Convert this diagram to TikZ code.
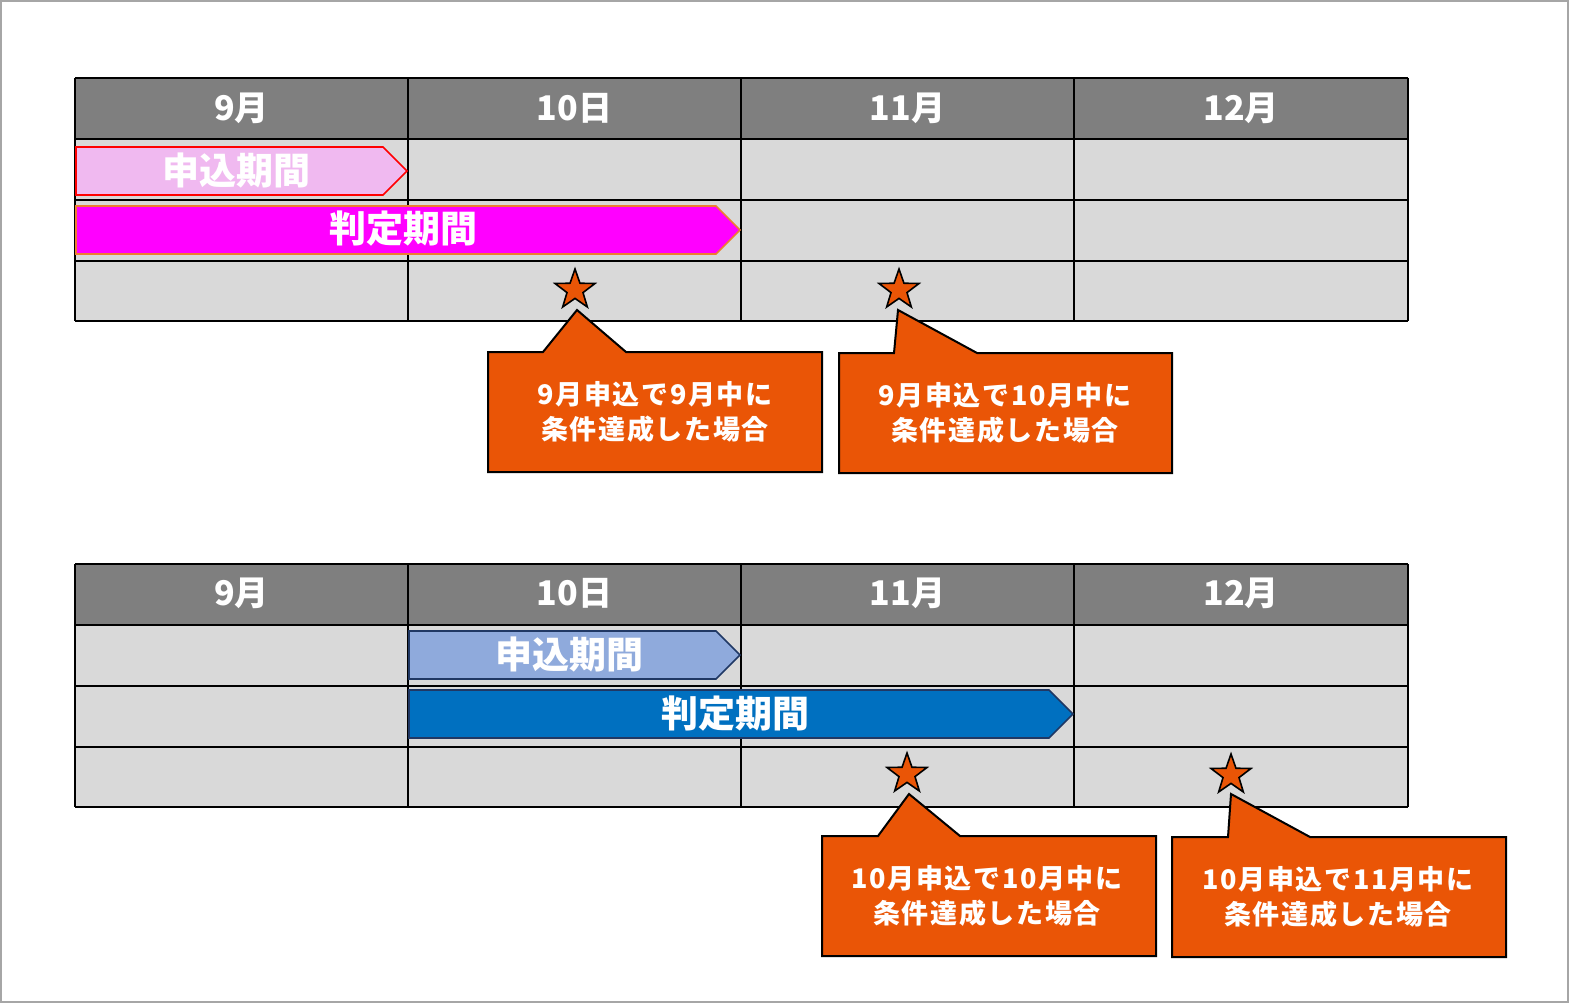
\documentclass[tikz,border=0pt]{standalone}
\usepackage{fontspec}
\newfontfamily\jp{Noto Sans CJK JP}
\newfontfamily\jpsp{Noto Sans CJK JP}[LetterSpace=6]
\usetikzlibrary{shapes.geometric}
\definecolor{hdr}{HTML}{7F7F7F}
\definecolor{cell}{HTML}{D9D9D9}
\definecolor{org}{HTML}{EA5506}
\definecolor{pinkl}{HTML}{F0B9F0}
\definecolor{mag}{HTML}{FF00FF}
\definecolor{magb}{HTML}{ED7D31}
\definecolor{bluel}{HTML}{8FAADC}
\definecolor{blued}{HTML}{0070C0}
\definecolor{navy}{HTML}{203864}
\definecolor{frame}{HTML}{A6A6A6}
\tikzset{
  grid line/.style={draw=black, line width=2pt},
  hdrtxt/.style={text=white, font=\jp\bfseries\fontsize{34}{40}\selectfont, inner sep=0pt},
  bartxt/.style={text=white, font=\jp\bfseries\fontsize{37}{43}\selectfont, inner sep=0pt},
  calltxt/.style={text=white, align=center, font=\jpsp\bfseries\fontsize{27}{35}\selectfont, inner sep=0pt},
  callout/.style={fill=org, draw=black, line width=2pt, line join=miter},
  starmark/.style={star, star points=5, star point ratio=2.5, minimum size=42pt, inner sep=0pt, fill=org, draw=black, line width=1.6pt},
}
\begin{document}
\begin{tikzpicture}[x=1pt, y=-1pt]
\useasboundingbox (0,0) rectangle (1569,1003);
\draw[frame, line width=2pt] (1,1) rectangle (1568,1002);

% tables
\foreach \yy in {78,564} {
  \fill[hdr] (75,\yy) rectangle (1408,\yy+61);
  \fill[cell] (75,\yy+61) rectangle (1408,\yy+243);
  \foreach \dy in {0,61,122,183,243} {\draw[grid line] (75,\yy+\dy) -- (1408,\yy+\dy);}
  \foreach \xx in {75,408,741,1074,1408} {\draw[grid line] (\xx,\yy) -- (\xx,\yy+243);}
}

% headers
\foreach \yy/\s in {108/a,593/b} {
  \node[hdrtxt] (m9\s) at (241.5,\yy) {9月};
  \node[hdrtxt] (m10\s) at (574.5,\yy) {10日};
  \node[hdrtxt] (m11\s) at (907.5,\yy) {11月};
  \node[hdrtxt] (m12\s) at (1241,\yy) {12月};
}

% bars top
\draw[fill=pinkl, draw=red, line width=1.6pt] (76,147) -- (383,147) -- (407,171) -- (383,195) -- (76,195) -- cycle;
\node[bartxt] (ma) at (236,170) {申込期間};
\draw[fill=mag, draw=magb, line width=1.6pt] (76,206) -- (716,206) -- (740,230) -- (716,254) -- (76,254) -- cycle;
\node[bartxt] (ha) at (403,229) {判定期間};

% bars bottom
\draw[fill=bluel, draw=navy, line width=1.6pt] (409,631) -- (716,631) -- (740,655) -- (716,679) -- (409,679) -- cycle;
\node[bartxt] (mb) at (569,654) {申込期間};
\draw[fill=blued, draw=navy, line width=1.6pt] (409,690) -- (1049,690) -- (1073,714) -- (1049,738) -- (409,738) -- cycle;
\node[bartxt] (hb) at (735,714) {判定期間};

% callouts
\draw[callout] (488,352) -- (543,352) -- (577,310) -- (626,352) -- (822,352) -- (822,472) -- (488,472) -- cycle;
\draw[callout] (839,353) -- (894,353) -- (898,310) -- (977,353) -- (1172,353) -- (1172,473) -- (839,473) -- cycle;
\draw[callout] (822,836) -- (878,836) -- (909,794) -- (960,836) -- (1156,836) -- (1156,956) -- (822,956) -- cycle;
\draw[callout] (1172,837) -- (1228,837) -- (1231,794) -- (1310,837) -- (1506,837) -- (1506,957) -- (1172,957) -- cycle;

\node[calltxt] (c1) at (655,412) {9月申込で9月中に\\条件達成した場合};
\node[calltxt] (c2) at (1005,413) {9月申込で10月中に\\条件達成した場合};
\node[calltxt] (c3) at (987,896) {10月申込で10月中に\\条件達成した場合};
\node[calltxt] (c4) at (1338,897) {10月申込で11月中に\\条件達成した場合};

% stars
\node[starmark] (s1) at (575,290) {};
\node[starmark] (s2) at (899,290) {};
\node[starmark] (s3) at (907,774) {};
\node[starmark] (s4) at (1231,775) {};
\end{tikzpicture}
\end{document}
